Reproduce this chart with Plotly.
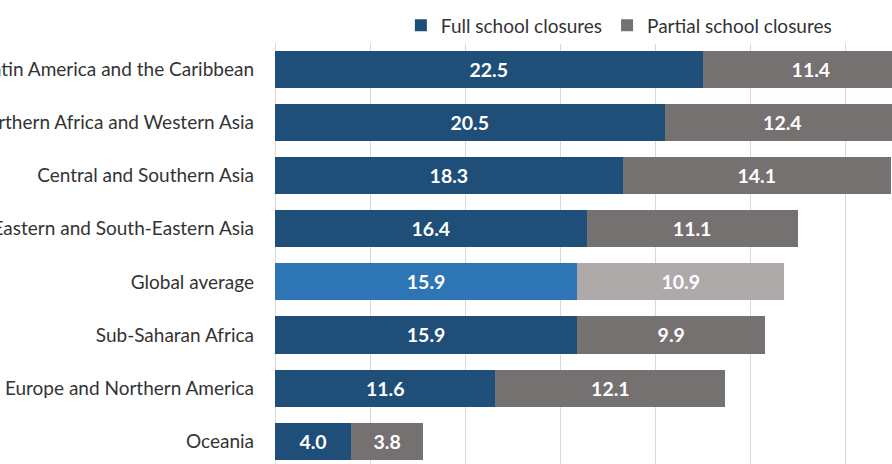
import plotly.graph_objects as go

categories = ["Oceania", "Europe and Northern America", "Sub-Saharan Africa", "Global average",
              "Eastern and South-Eastern Asia", "Central and Southern Asia",
              "Northern Africa and Western Asia", "Latin America and the Caribbean"]
full_closures = [4.0, 11.6, 15.9, 15.9, 16.4, 18.3, 20.5, 22.5]
partial_closures = [3.8, 12.1, 9.9, 10.9, 11.1, 14.1, 12.4, 11.4]

DARK_BLUE = "#1F4E79"
LIGHT_BLUE = "#2E75B6"
GRAY = "#767171"
LIGHT_GRAY = "#AEAAAA"

full_colors = [LIGHT_BLUE if c == "Global average" else DARK_BLUE for c in categories]
partial_colors = [LIGHT_GRAY if c == "Global average" else GRAY for c in categories]

FONT = "Lato"
TEXT_COLOR = "#333333"

fig = go.Figure()
fig.add_trace(go.Bar(
    y=categories, x=full_closures, orientation="h", name="Full school closures",
    marker=dict(color=full_colors, line=dict(width=0)),
    texttemplate="%{x:.1f}", textposition="inside", insidetextanchor="middle",
    textfont=dict(family=FONT, size=19.5, color="white", weight="bold"),
))
fig.add_trace(go.Bar(
    y=categories, x=partial_closures, orientation="h", name="Partial school closures",
    marker=dict(color=partial_colors, line=dict(width=0)),
    texttemplate="%{x:.1f}", textposition="inside", insidetextanchor="middle",
    textfont=dict(family=FONT, size=19.5, color="white", weight="bold"),
))

fig.update_layout(
    width=892, height=464,
    barmode="stack", bargap=0.3,
    margin=dict(l=275, r=0, t=43, b=0),
    paper_bgcolor="white", plot_bgcolor="white",
    font=dict(family=FONT, size=19, color=TEXT_COLOR),
    uniformtext=dict(mode="show", minsize=10),
    showlegend=True,
    legend=dict(orientation="h", x=0.204, xanchor="left", y=1.042, yanchor="middle",
                font=dict(family=FONT, size=19, color=TEXT_COLOR),
                traceorder="normal", itemwidth=30),
    xaxis=dict(range=[0, 32.47], dtick=5, showgrid=True, gridcolor="#D9D9D9", gridwidth=1,
               zeroline=True, zerolinecolor="#D9D9D9", zerolinewidth=1,
               showticklabels=False, ticks="", fixedrange=True),
    yaxis=dict(range=[-0.43, 7.5], showgrid=False, zeroline=False, automargin=False,
               ticks="", ticklabelstandoff=20, tickfont=dict(family=FONT, size=19, color=TEXT_COLOR)),
)

fig.write_html("out.html", config={"displayModeBar": False},
               post_script="document.body.style.margin='0';document.body.style.overflow='hidden';")
